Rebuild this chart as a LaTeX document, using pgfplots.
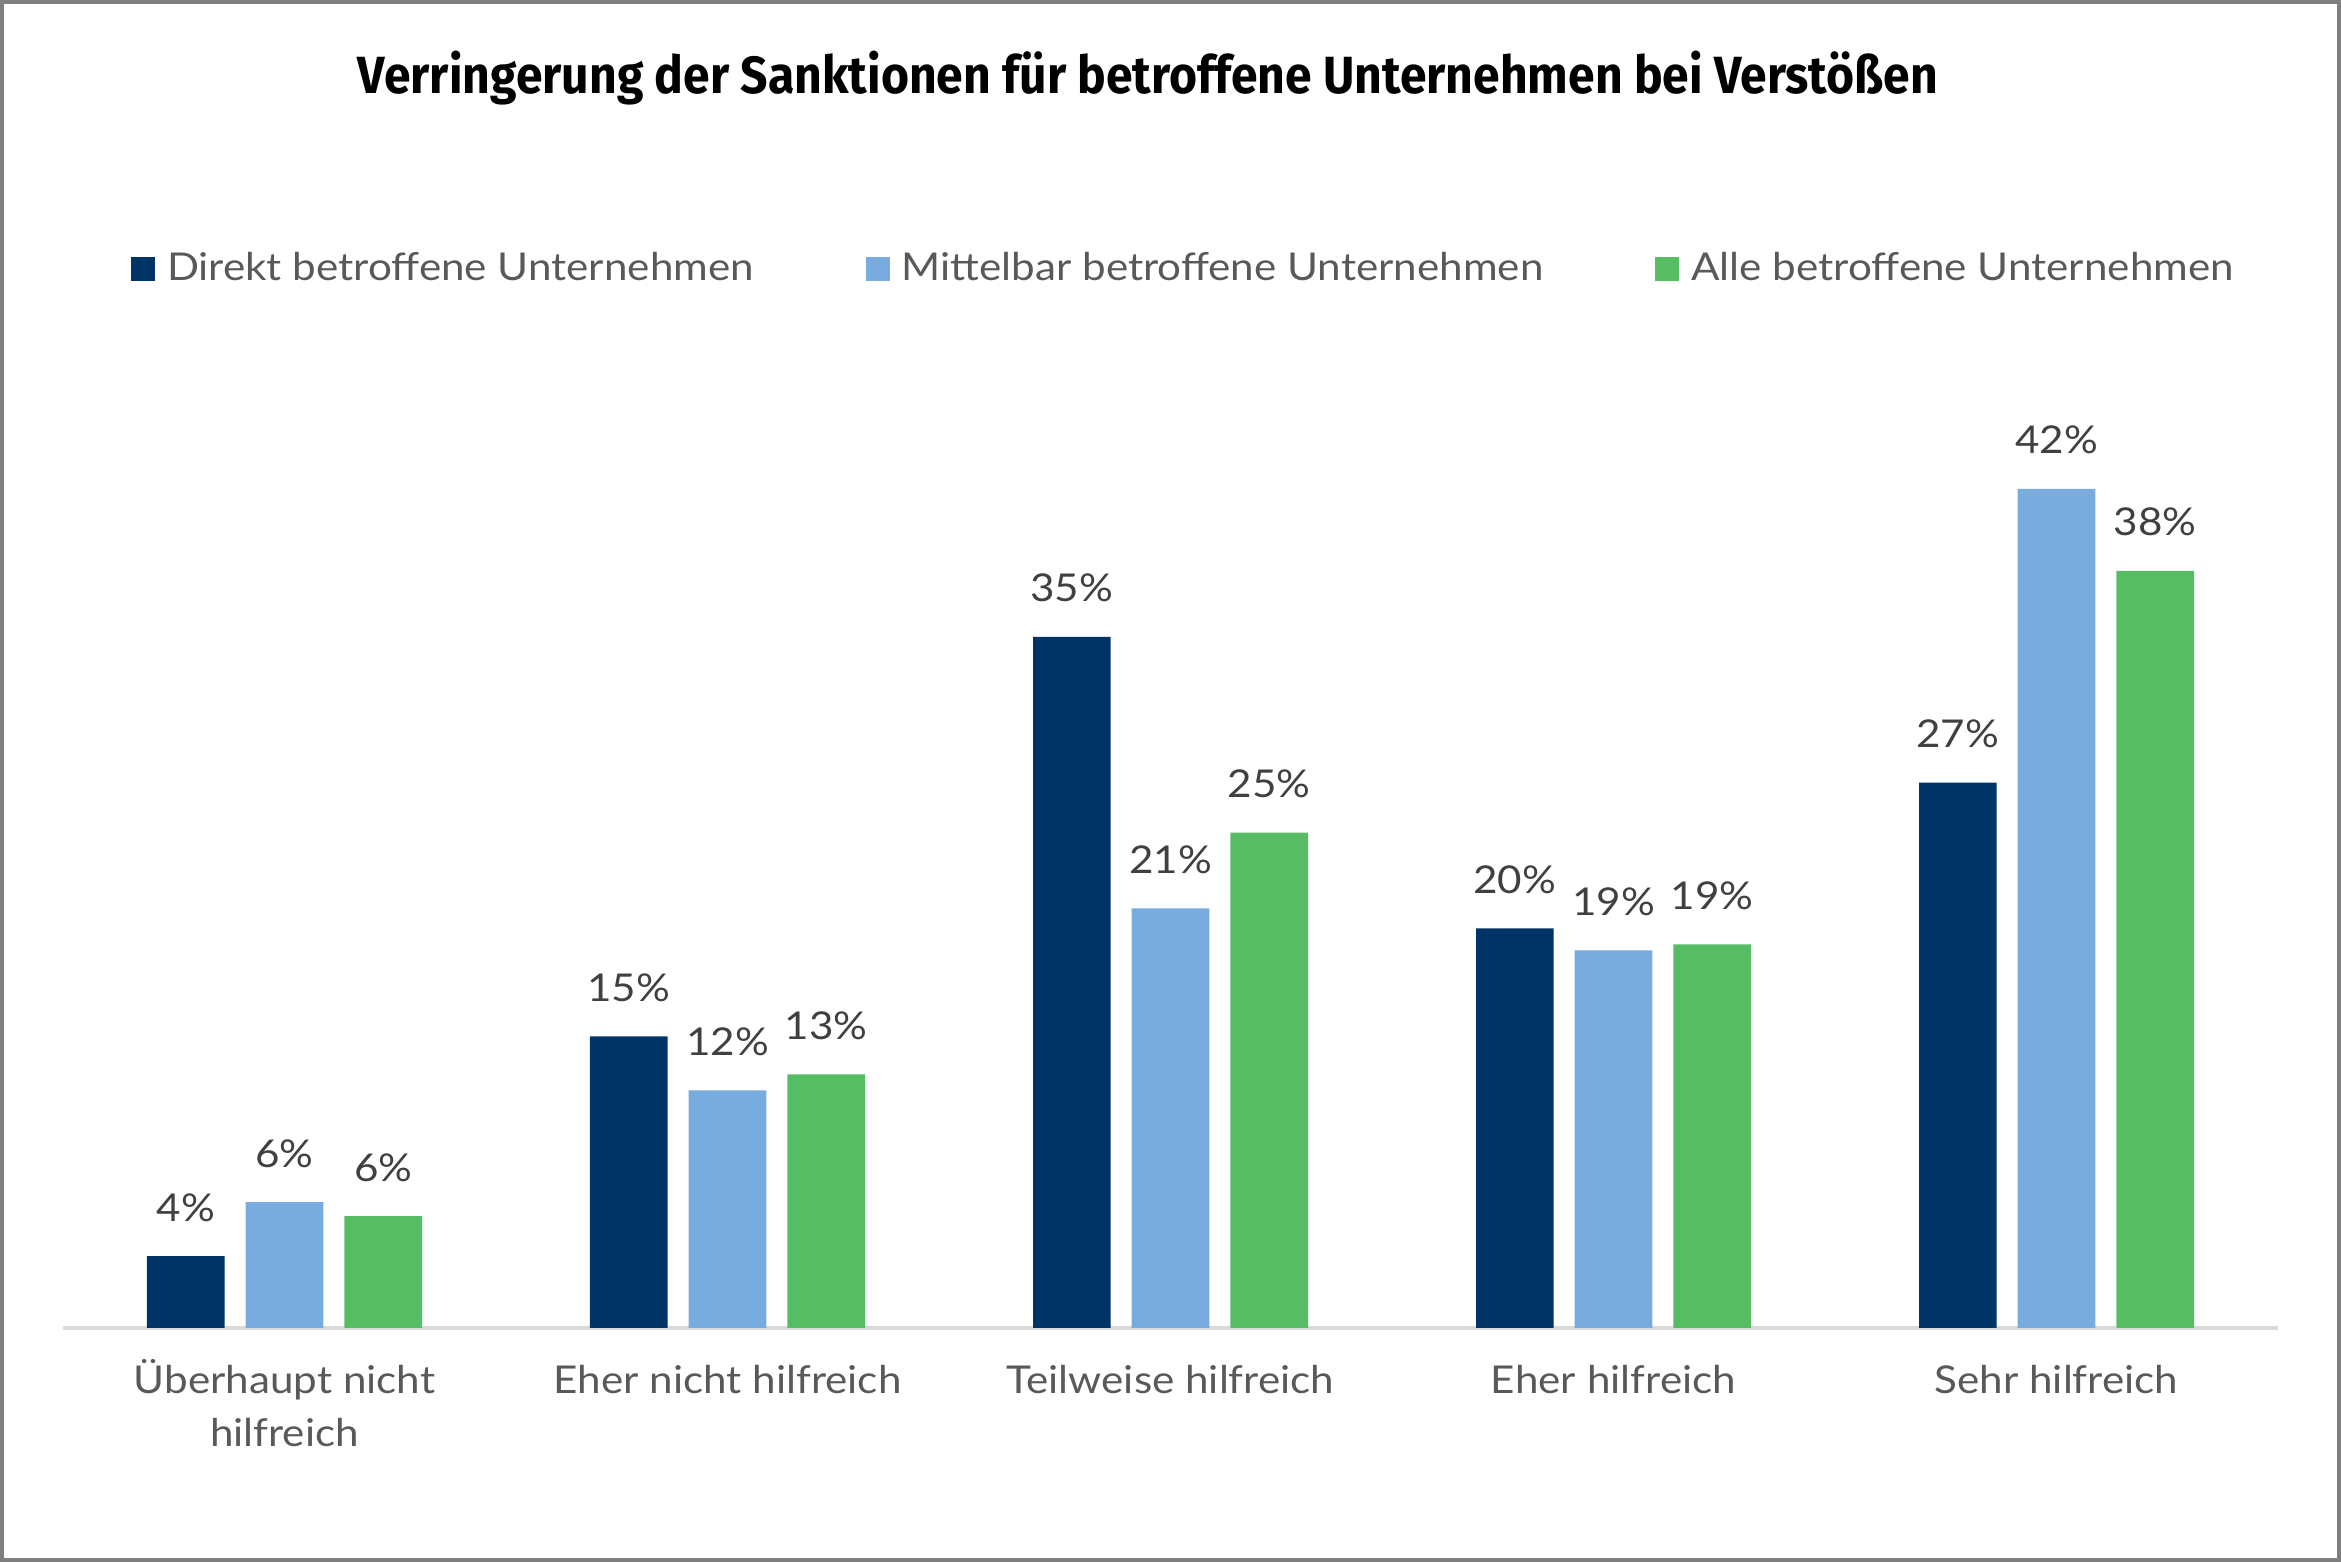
\documentclass[border=0pt]{standalone}
\usepackage{fontspec}
\setmainfont{Lato}[FakeStretch=1.1]
\newfontfamily\titlefont{Fira Sans}
\usepackage{graphicx}
\usepackage{pgfplots}
\usepackage{pgfplotstable}
\pgfplotsset{compat=1.18}

\definecolor{direkt}{HTML}{003466}
\definecolor{mittelbar}{HTML}{78ABDE}
\definecolor{alle}{HTML}{57BD65}
\definecolor{labelgray}{HTML}{595959}
\definecolor{valuegray}{HTML}{404040}
\definecolor{axisgray}{HTML}{D9D9D9}
\definecolor{framegray}{HTML}{7F7F7F}

% bar heights and the printed labels
\pgfplotstableread{
x d dl m ml a al
0 3.6 4 6.3 6 5.6 6
1 14.6 15 11.9 12 12.7 13
2 34.6 35 21.0 21 24.8 25
3 20.0 20 18.9 19 19.2 19
4 27.3 27 42.0 42 37.9 38
}\datatable

\begin{document}
\begin{tikzpicture}
  \path[use as bounding box] (0,0) rectangle (702.3pt,468.6pt);
  \draw[framegray, line width=1.2pt] (0.6pt,0.6pt) rectangle (701.7pt,468pt);

  \node[anchor=base, inner sep=0pt] at (344.4pt,440.4pt)
    {\resizebox{474pt}{\height}{\titlefont\bfseries\fontsize{15.7}{18}\selectfont
      Verringerung der Sanktionen für betroffene Unternehmen bei Verstößen}};

  \begin{axis}[
      at={(18.9pt,70.2pt)}, anchor=south west,
      scale only axis,
      width=664.5pt, height=269.7pt,
      xmin=-0.5, xmax=4.5, ymin=0, ymax=45,
      enlargelimits=false,
      clip=false,
      axis x line=bottom, axis y line=none,
      x axis line style={-, draw=axisgray, line width=1pt},
      xtick={0,1,2,3,4},
      major tick length=0pt,
      ytick=\empty,
      xticklabels={{\rule{0pt}{12pt}Überhaupt nicht\\hilfreich},
                   {\rule{0pt}{12pt}Eher nicht hilfreich},
                   {\rule{0pt}{12pt}Teilweise hilfreich},
                   {\rule{0pt}{12pt}Eher hilfreich},
                   {\rule{0pt}{12pt}Sehr hilfreich}},
      xticklabel style={align=center, anchor=north, inner sep=0pt, yshift=-7.5pt,
        font=\fontsize{11.5}{15.9}\selectfont, text=labelgray},
      ybar, bar width=23.3pt,
      point meta=explicit symbolic,
      nodes near coords={\pgfplotspointmeta\%},
      nodes near coords style={anchor=base, inner sep=0pt, yshift=10.5pt,
        font=\fontsize{11.5}{14}\selectfont, text=valuegray},
      legend columns=3,
      legend image code/.code={\fill[#1] (0pt,-3.6pt) rectangle (7.2pt,3.6pt);},
      legend style={at={(0.0307,1.178)}, anchor=west, draw=none, fill=none,
        inner sep=0pt, outer sep=0pt,
        nodes={inner sep=0pt, font=\fontsize{11.5}{14}\selectfont, text=labelgray},
        /tikz/every odd column/.append style={column sep=3.6pt},
        /tikz/every even column/.append style={column sep=33.6pt}},
      legend cell align=left,
    ]
    \addplot[fill=direkt, draw=none, bar shift=-29.6pt]
      table[x=x, y=d, meta=dl] {\datatable};
    \addplot[fill=mittelbar, draw=none, bar shift=0pt]
      table[x=x, y=m, meta=ml] {\datatable};
    \addplot[fill=alle, draw=none, bar shift=29.6pt]
      table[x=x, y=a, meta=al] {\datatable};
    \legend{Direkt betroffene Unternehmen, Mittelbar betroffene Unternehmen,
      Alle betroffene Unternehmen}
  \end{axis}
\end{tikzpicture}
\end{document}
